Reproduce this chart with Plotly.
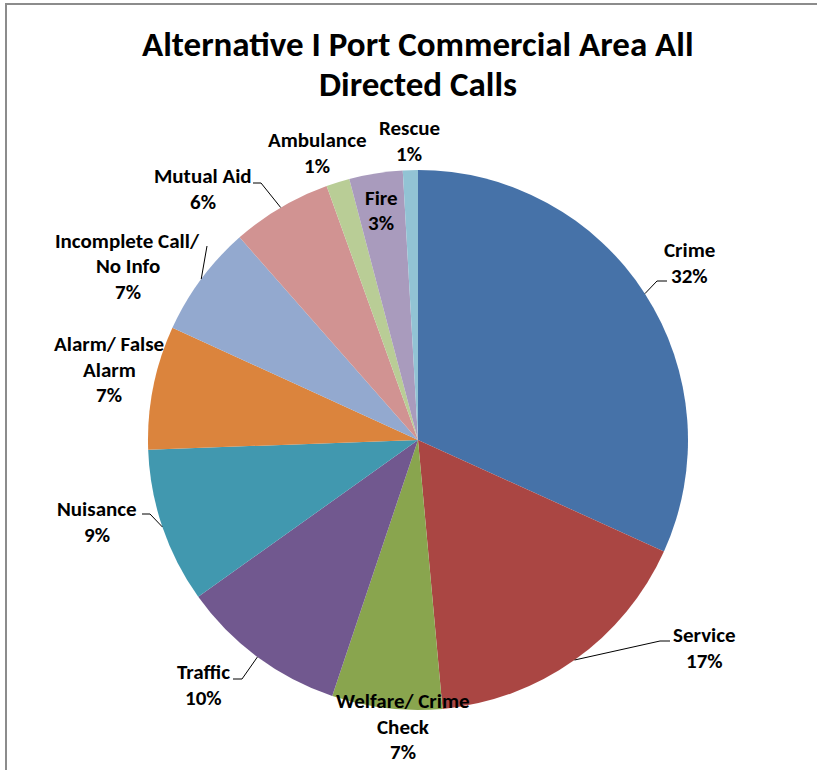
import math
import plotly.graph_objects as go

W, H = 817, 770

# Share of directed calls by call type (percent)
categories = [
    "Crime", "Service", "Welfare/ Crime\nCheck", "Traffic", "Nuisance",
    "Alarm/ False\nAlarm", "Incomplete Call/\nNo Info", "Mutual Aid",
    "Ambulance", "Fire", "Rescue",
]
shares = [31.8, 16.8, 6.6, 10.0, 9.3, 7.4, 6.7, 6.0, 1.4, 3.2, 0.9]

colors = [
    "#4672A8", "#AA4643", "#89A54E", "#71588F", "#4198AF", "#DB843D",
    "#93A9CF", "#D19392", "#B9CD96", "#A99BBD", "#92C3D4",
]

title_lines = ["Alternative I Port Commercial Area All", "Directed Calls"]

# Pie geometry in pixels
CX, CY, R = 418, 440, 270

# Label placement (pixel centre of first text line) and optional leader elbow
label_pos = {
    "Crime": (689, 250),
    "Service": (704, 635),
    "Welfare/ Crime\nCheck": (403, 701),
    "Traffic": (203, 672),
    "Nuisance": (97, 509),
    "Alarm/ False\nAlarm": (109, 344),
    "Incomplete Call/\nNo Info": (128, 241),
    "Mutual Aid": (203, 176),
    "Ambulance": (317, 140),
    "Fire": (381, 198),
    "Rescue": (409, 128),
}
leader_elbow = {
    "Crime": [(667, 281), (657, 281)],
    "Service": [(670, 641), (660, 641)],
    "Traffic": [(233, 679), (242, 679)],
    "Nuisance": [(142, 514), (150, 514)],
    "Incomplete Call/\nNo Info": [(207, 246)],
    "Mutual Aid": [(253, 183), (261, 183)],
}

FONT = "Carlito, Calibri, Lato, 'Liberation Sans', sans-serif"
LINE_H = 25.5


def px(x):
    return x / W


def py(y):
    return 1 - y / H


total = sum(shares)
pct = [v / total * 100 for v in shares]

fig = go.Figure(go.Pie(
    labels=categories,
    values=shares,
    sort=False,
    direction="clockwise",
    rotation=0,
    marker=dict(colors=colors, line=dict(width=0)),
    textinfo="none",
    hoverinfo="label+percent",
    showlegend=False,
    domain=dict(x=[px(CX - R), px(CX + R)], y=[py(CY + R), py(CY - R)]),
))

annotations = []
# Title
for i, t in enumerate(title_lines):
    annotations.append(dict(
        x=px(418), y=py(44 + 40 * i), xref="paper", yref="paper",
        text=f"<b>{t}</b>", showarrow=False, xanchor="center", yanchor="middle",
        font=dict(family=FONT, size=35, color="#000000"),
    ))

shapes = []
cum = 0.0
for cat, p in zip(categories, pct):
    mid = (cum + p / 2) / 100 * 2 * math.pi
    cum += p
    lines = cat.split("\n") + [f"{round(p):.0f}%"]
    lx, ly = label_pos[cat]
    for j, ln in enumerate(lines):
        annotations.append(dict(
            x=px(lx), y=py(ly + LINE_H * j), xref="paper", yref="paper",
            text=f"<b>{ln}</b>", showarrow=False, xanchor="center", yanchor="middle",
            font=dict(family=FONT, size=21, color="#000000"),
        ))
    if cat in leader_elbow:
        ex, ey = CX + R * math.sin(mid), CY - R * math.cos(mid)
        pts = leader_elbow[cat] + [(ex, ey)]
        path = "M " + " L ".join(f"{px(a)},{py(b)}" for a, b in pts)
        shapes.append(dict(type="path", xref="paper", yref="paper", path=path,
                           line=dict(color="#000000", width=1)))

# Chart frame (left and top edges)
shapes.append(dict(type="line", xref="paper", yref="paper",
                   x0=px(6), x1=px(6), y0=py(4), y1=py(H + 5),
                   line=dict(color="#8C8C8C", width=2)))
shapes.append(dict(type="line", xref="paper", yref="paper",
                   x0=px(5), x1=px(W + 5), y0=py(4), y1=py(4),
                   line=dict(color="#8C8C8C", width=2)))

fig.update_layout(
    width=W, height=H,
    margin=dict(l=0, r=0, t=0, b=0),
    paper_bgcolor="white", plot_bgcolor="white",
    annotations=annotations, shapes=shapes,
)

fig.write_html("out.html")
